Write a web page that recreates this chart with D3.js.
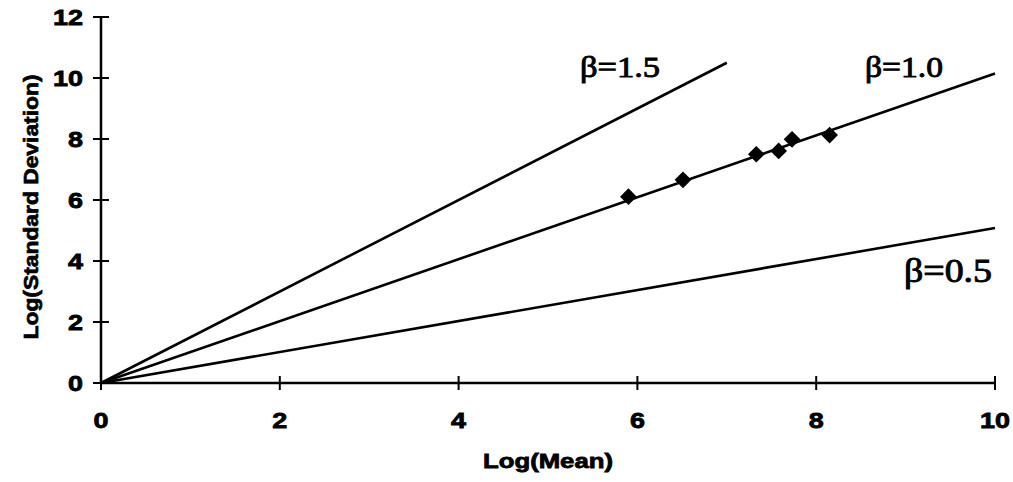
<!DOCTYPE html>
<html>
<head>
<meta charset="utf-8">
<script src="https://cdn.jsdelivr.net/npm/d3@7"></script>
<style>
  html, body { margin: 0; padding: 0; background: #fff; }
  svg { display: block; }
</style>
</head>
<body>
<svg id="chart" width="1013" height="482"></svg>
<script>
// ---- data ----
const xTicks = [0, 2, 4, 6, 8, 10];
const yTicks = [0, 2, 4, 6, 8, 10, 12];
const pointsX = [5.90, 6.51, 7.33, 7.58, 7.73, 8.15];
const pointsY = [6.11, 6.66, 7.50, 7.61, 7.99, 8.13];
const betaNames = ["β=1.5", "β=1.0", "β=0.5"];
const lineEndX = [7, 10, 10];
const lineEndY = [10.5, 10.15, 5.08];
const xTitle = "Log(Mean)";
const yTitle = "Log(Standard Deviation)";

// ---- layout ----
const svg = d3.select("#chart");
const x = d3.scaleLinear().domain([0, 10]).range([101, 995]);
const y = d3.scaleLinear().domain([0, 12]).range([383, 17]);

const axisFont = "'Liberation Sans', Arial, sans-serif";
const serif = "'Liberation Serif', 'Times New Roman', serif";

// axes lines
svg.append("line").attr("x1", x(0)).attr("x2", x(10)).attr("y1", y(0)).attr("y2", y(0))
  .attr("stroke", "#000").attr("stroke-width", 2.5);
svg.append("line").attr("x1", x(0)).attr("x2", x(0)).attr("y1", y(0)).attr("y2", y(12))
  .attr("stroke", "#000").attr("stroke-width", 2.5);

// x ticks
svg.selectAll(".xt").data(xTicks).enter().append("line")
  .attr("x1", d => x(d)).attr("x2", d => x(d))
  .attr("y1", y(0) - 7).attr("y2", y(0) + 7)
  .attr("stroke", "#000").attr("stroke-width", 2);
svg.selectAll(".xl").data(xTicks).enter().append("text")
  .attr("x", d => x(d)).attr("y", 428)
  .attr("text-anchor", "middle")
  .attr("font-family", axisFont).attr("font-weight", "bold").attr("font-size", 22)
  .attr("stroke", "#000").attr("stroke-width", 0.8)
  .attr("textLength", d => String(d).length * 15).attr("lengthAdjust", "spacingAndGlyphs")
  .text(d => d);

// y ticks
svg.selectAll(".yt").data(yTicks).enter().append("line")
  .attr("y1", d => y(d)).attr("y2", d => y(d))
  .attr("x1", x(0) - 8).attr("x2", x(0) + 8)
  .attr("stroke", "#000").attr("stroke-width", 2);
svg.selectAll(".yl").data(yTicks).enter().append("text")
  .attr("x", 83).attr("y", d => y(d) + 8)
  .attr("text-anchor", "end")
  .attr("font-family", axisFont).attr("font-weight", "bold").attr("font-size", 22)
  .attr("stroke", "#000").attr("stroke-width", 0.8)
  .attr("textLength", d => String(d).length * 15).attr("lengthAdjust", "spacingAndGlyphs")
  .text(d => d);

// axis titles
svg.append("text")
  .attr("x", 548).attr("y", 468)
  .attr("text-anchor", "middle")
  .attr("font-family", axisFont).attr("font-weight", "bold").attr("font-size", 21)
  .attr("stroke", "#000").attr("stroke-width", 0.8)
  .attr("textLength", 130).attr("lengthAdjust", "spacingAndGlyphs")
  .text(xTitle);
svg.append("text")
  .attr("transform", "translate(38,207) rotate(-90)")
  .attr("text-anchor", "middle")
  .attr("font-family", axisFont).attr("font-weight", "bold").attr("font-size", 21)
  .attr("stroke", "#000").attr("stroke-width", 0.7)
  .attr("textLength", 265).attr("lengthAdjust", "spacingAndGlyphs")
  .text(yTitle);

// beta lines
const lineGen = d3.line().x(d => x(d[0])).y(d => y(d[1]));
betaNames.forEach((name, i) => {
  svg.append("path")
    .attr("d", lineGen([[0, 0], [lineEndX[i], lineEndY[i]]]))
    .attr("fill", "none").attr("stroke", "#000").attr("stroke-width", 2.6);
});

// beta labels
const labelPos = [[580, 77, 80, 30], [865, 77, 78, 30], [904, 282, 88, 33]];
betaNames.forEach((name, i) => {
  const p = labelPos[i];
  svg.append("text")
    .attr("x", p[0]).attr("y", p[1])
    .attr("font-family", serif).attr("font-size", p[3])
    .attr("stroke", "#000").attr("stroke-width", 0.9)
    .attr("textLength", p[2]).attr("lengthAdjust", "spacingAndGlyphs")
    .text(name);
});

// points (diamonds)
const sym = d3.symbol().type(d3.symbolSquare).size(140);
svg.selectAll(".pt").data(pointsX).enter().append("path")
  .attr("d", sym)
  .attr("transform", (d, i) => `translate(${x(d)},${y(pointsY[i])}) rotate(45)`)
  .attr("fill", "#000");
</script>
</body>
</html>
